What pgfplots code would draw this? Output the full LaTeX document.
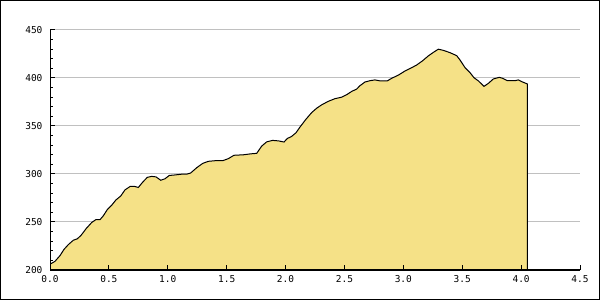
\documentclass[border=0pt]{standalone}
\usepackage{fontspec}
\setmainfont{DejaVu Sans Mono}
\usepackage{pgfplots}
\pgfplotsset{compat=1.18}
\definecolor{areafill}{RGB}{245,225,135}
\definecolor{gridgray}{RGB}{192,192,192}
\begin{document}
\begin{tikzpicture}
\path[use as bounding box] (0pt,0pt) rectangle (600pt,300pt);
\draw[line width=1pt,black] (0.5pt,0.5pt) rectangle (599.5pt,299.5pt);
\begin{axis}[
  at={(50pt,30pt)}, anchor=south west,
  scale only axis, width=530pt, height=240pt,
  xmin=0, xmax=4.5, ymin=200, ymax=450,
  axis x line*=bottom, axis y line*=left,
  axis line style={-, line width=1pt, black},
  axis on top,
  xtick={0,0.5,...,4.5},
  ytick={200,250,...,450},
  minor y tick num=4,
  tick align=inside,
  major tick length=5pt, minor tick length=3pt,
  tick style={black, line width=1pt},
  ticklabel style={font=\fontsize{9.5}{10}\selectfont},
  /pgf/number format/assume math mode=true,
  xticklabel style={/pgf/number format/.cd, fixed, fixed zerofill, precision=1, /tikz/.cd, yshift=-2pt},
  yticklabel style={xshift=-4pt},
]
\foreach \g in {250,300,350,400,450} {
  \edef\tmp{\noexpand\draw[gridgray, line width=1pt] (axis cs:0,\g) -- (axis cs:4.5,\g);}
  \tmp
}
\addplot[fill=areafill, draw=black, line width=1pt] coordinates {
(0,206) (0.042,209) (0.085,215) (0.119,221.5) (0.156,226.5) (0.198,231) (0.232,232.5) (0.263,236) (0.306,243) (0.354,249.5)
(0.39,252.5) (0.425,252.5) (0.453,256.5) (0.487,263) (0.524,267.5) (0.56,273) (0.6,277) (0.637,283.5) (0.68,287) (0.72,287)
(0.75,286) (0.787,291.5) (0.826,296.5) (0.863,297.5) (0.9,297) (0.94,293.5) (0.976,295) (1.013,298.5) (1.06,299) (1.118,299.8)
(1.16,299.8) (1.194,301) (1.245,306.5) (1.296,311) (1.344,313.2) (1.415,314) (1.47,314) (1.514,316) (1.562,319.5) (1.642,320)
(1.704,321) (1.755,321.5) (1.797,329) (1.84,333.5) (1.89,335) (1.94,334.5) (1.987,333.3) (2.015,337) (2.05,339) (2.089,343)
(2.123,349) (2.173,357) (2.222,364) (2.264,368.5) (2.306,372) (2.363,375.7) (2.42,378.5) (2.476,380) (2.519,382.6) (2.561,386)
(2.604,388.5) (2.632,392) (2.674,395.8) (2.717,397.2) (2.759,398) (2.802,397) (2.864,397) (2.901,399.7) (2.958,403) (3.014,407.3)
(3.071,410.8) (3.113,413.5) (3.164,418) (3.212,423) (3.255,426.7) (3.297,430) (3.34,428.8) (3.396,426.4) (3.453,423.3) (3.481,418.8)
(3.524,410.8) (3.566,405.6) (3.6,400.3) (3.637,397) (3.685,391.3) (3.722,394.4) (3.764,399) (3.815,400.7) (3.843,399.7) (3.883,397.2)
(3.948,397.2) (3.976,398) (4.013,395.8) (4.053,393.8)
} \closedcycle;
\end{axis}
\end{tikzpicture}
\end{document}
